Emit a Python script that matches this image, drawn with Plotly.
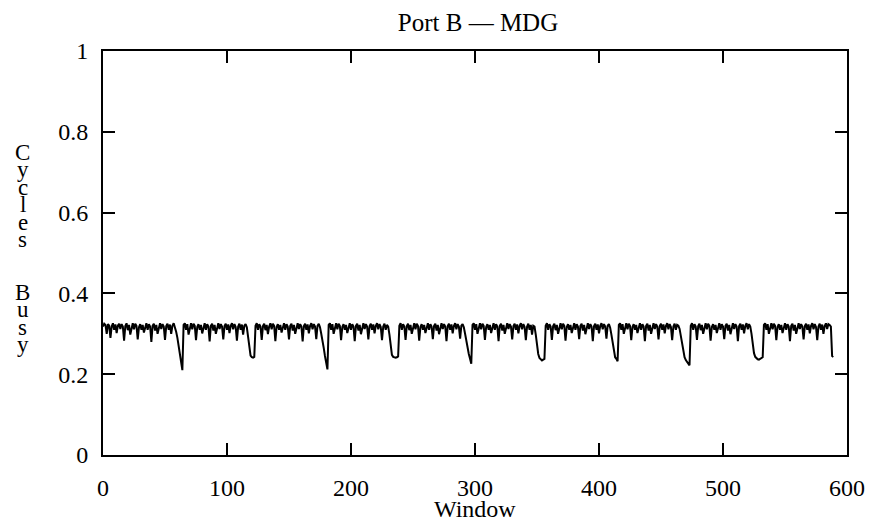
import plotly.graph_objects as go

# Fraction of cycles busy per window
busy = [
    # windows 0..64
    0.318, 0.325, 0.322, 0.30, 0.324, 0.32, 0.29,
    0.318, 0.326, 0.31, 0.323, 0.302,
    0.32, 0.325, 0.312, 0.324, 0.318, 0.283,
    0.319, 0.326, 0.309, 0.322, 0.298,
    0.318, 0.326, 0.311, 0.325, 0.32, 0.286,
    0.316, 0.324, 0.31, 0.322, 0.303,
    0.318, 0.326, 0.31, 0.324, 0.318, 0.28,
    0.32, 0.325, 0.308, 0.322, 0.30,
    0.318, 0.326, 0.312, 0.324, 0.318, 0.285,
    0.319, 0.325, 0.31, 0.323, 0.30,
    0.32, 0.326, 0.318, 0.305, 0.29, 0.27, 0.25, 0.235, 0.21,
    # windows 65..122
    0.322, 0.326, 0.31, 0.324, 0.298,
    0.318, 0.326, 0.311, 0.325, 0.32, 0.284,
    0.317, 0.324, 0.31, 0.322, 0.301,
    0.318, 0.326, 0.31, 0.324, 0.318, 0.281,
    0.32, 0.325, 0.308, 0.322, 0.30,
    0.318, 0.326, 0.312, 0.324, 0.318, 0.286,
    0.319, 0.325, 0.31, 0.323, 0.302,
    0.32, 0.326, 0.311, 0.324, 0.317, 0.283,
    0.318, 0.325, 0.31, 0.323, 0.298, 0.32, 0.324, 0.316, 0.295, 0.265, 0.246, 0.242, 0.241, 0.243,
    # windows 123..181
    0.32, 0.326, 0.31, 0.324, 0.318, 0.285,
    0.319, 0.325, 0.309, 0.322, 0.299,
    0.318, 0.326, 0.311, 0.325, 0.32, 0.282,
    0.317, 0.324, 0.31, 0.322, 0.303,
    0.318, 0.326, 0.31, 0.324, 0.318, 0.286,
    0.32, 0.325, 0.308, 0.322, 0.30,
    0.318, 0.326, 0.312, 0.324, 0.318, 0.281,
    0.319, 0.325, 0.31, 0.323, 0.301,
    0.32, 0.326, 0.311, 0.324, 0.318, 0.287,
    0.32, 0.325, 0.316, 0.30, 0.285, 0.265, 0.245, 0.232, 0.212,
    # windows 182..238
    0.322, 0.326, 0.31, 0.324, 0.30,
    0.318, 0.326, 0.311, 0.325, 0.32, 0.284,
    0.317, 0.324, 0.31, 0.322, 0.302,
    0.318, 0.326, 0.31, 0.324, 0.318, 0.282,
    0.32, 0.325, 0.308, 0.322, 0.299,
    0.318, 0.326, 0.312, 0.324, 0.318, 0.286,
    0.319, 0.325, 0.31, 0.323, 0.301,
    0.32, 0.326, 0.311, 0.324, 0.317, 0.284,
    0.318, 0.325, 0.31, 0.322, 0.318, 0.298, 0.268, 0.248, 0.243, 0.242, 0.241, 0.242, 0.244,
    # windows 239..297
    0.32, 0.326, 0.31, 0.324, 0.318, 0.285,
    0.319, 0.325, 0.309, 0.322, 0.30,
    0.318, 0.326, 0.311, 0.325, 0.32, 0.283,
    0.317, 0.324, 0.31, 0.322, 0.302,
    0.318, 0.326, 0.31, 0.324, 0.318, 0.287,
    0.32, 0.325, 0.308, 0.322, 0.299,
    0.318, 0.326, 0.312, 0.324, 0.318, 0.282,
    0.319, 0.325, 0.31, 0.323, 0.301,
    0.32, 0.326, 0.311, 0.324, 0.318, 0.288,
    0.32, 0.324, 0.316, 0.30, 0.28, 0.262, 0.25, 0.238, 0.226,
    # windows 298..356
    0.322, 0.326, 0.31, 0.324, 0.30,
    0.318, 0.326, 0.311, 0.325, 0.32, 0.285,
    0.317, 0.324, 0.31, 0.322, 0.302,
    0.318, 0.326, 0.31, 0.324, 0.318, 0.282,
    0.32, 0.325, 0.308, 0.322, 0.30,
    0.318, 0.326, 0.312, 0.324, 0.318, 0.286,
    0.319, 0.325, 0.31, 0.323, 0.301,
    0.32, 0.326, 0.311, 0.324, 0.317, 0.284,
    0.318, 0.325, 0.31, 0.322, 0.298, 0.32, 0.318, 0.298, 0.27, 0.25, 0.24, 0.236, 0.234, 0.236, 0.238,
    # windows 357..415
    0.32, 0.326, 0.31, 0.324, 0.318, 0.285,
    0.319, 0.325, 0.309, 0.322, 0.30,
    0.318, 0.326, 0.311, 0.325, 0.32, 0.283,
    0.317, 0.324, 0.31, 0.322, 0.302,
    0.318, 0.326, 0.31, 0.324, 0.318, 0.287,
    0.32, 0.325, 0.308, 0.322, 0.299,
    0.318, 0.326, 0.312, 0.324, 0.318, 0.282,
    0.319, 0.325, 0.31, 0.323, 0.301,
    0.32, 0.326, 0.311, 0.324, 0.318, 0.288,
    0.32, 0.324, 0.315, 0.298, 0.275, 0.255, 0.242, 0.238, 0.232,
    # windows 416..473
    0.322, 0.326, 0.31, 0.324, 0.30,
    0.318, 0.326, 0.311, 0.325, 0.32, 0.284,
    0.317, 0.324, 0.31, 0.322, 0.302,
    0.318, 0.326, 0.31, 0.324, 0.318, 0.282,
    0.32, 0.325, 0.308, 0.322, 0.30,
    0.318, 0.326, 0.312, 0.324, 0.318, 0.286,
    0.319, 0.325, 0.31, 0.323, 0.301,
    0.32, 0.326, 0.311, 0.324, 0.317, 0.284,
    0.318, 0.325, 0.31, 0.322, 0.32, 0.312, 0.295, 0.272, 0.252, 0.242, 0.235, 0.23, 0.226, 0.222,
    # windows 474..532
    0.32, 0.326, 0.31, 0.324, 0.318, 0.285,
    0.319, 0.325, 0.309, 0.322, 0.30,
    0.318, 0.326, 0.311, 0.325, 0.32, 0.283,
    0.317, 0.324, 0.31, 0.322, 0.302,
    0.318, 0.326, 0.31, 0.324, 0.318, 0.287,
    0.32, 0.325, 0.308, 0.322, 0.299,
    0.318, 0.326, 0.312, 0.324, 0.318, 0.282,
    0.319, 0.325, 0.31, 0.323, 0.301,
    0.32, 0.326, 0.311, 0.324, 0.318, 0.30, 0.272, 0.252, 0.243, 0.239, 0.237, 0.236, 0.238, 0.24, 0.242,
    # windows 533..589
    0.322, 0.326, 0.31, 0.324, 0.30,
    0.318, 0.326, 0.311, 0.325, 0.32, 0.284,
    0.317, 0.324, 0.31, 0.322, 0.302,
    0.318, 0.326, 0.31, 0.324, 0.318, 0.282,
    0.32, 0.325, 0.308, 0.322, 0.30,
    0.318, 0.326, 0.312, 0.324, 0.318, 0.286,
    0.319, 0.325, 0.31, 0.323, 0.301,
    0.32, 0.326, 0.311, 0.324, 0.317, 0.284,
    0.318, 0.325, 0.31, 0.323, 0.30, 0.319, 0.326, 0.312, 0.324, 0.322, 0.318, 0.245, 0.243,
]
windows = list(range(len(busy)))

x_ticks = [0, 100, 200, 300, 400, 500, 600]
y_ticks = [0, 0.2, 0.4, 0.6, 0.8, 1]
y_tick_labels = ["0", "0.2", "0.4", "0.6", "0.8", "1"]
title_text = "Port B — MDG"
x_title = "Window"
y_title_letters = ["C", "y", "c", "l", "e", "s", "", "", "B", "u", "s", "y"]

W, H = 877, 529
L, R, T, B = 103, 24, 51, 74
FONT = "Liberation Serif"

fig = go.Figure()
fig.add_trace(go.Scatter(x=windows, y=busy, mode="lines",
                         line=dict(color="black", width=2), showlegend=False,
                         hoverinfo="skip"))

axis_common = dict(showline=True, linecolor="black", linewidth=2, mirror="ticks",
                   ticks="inside", ticklen=12, tickwidth=2, tickcolor="black",
                   showgrid=False, zeroline=False,
                   tickfont=dict(family=FONT, size=24, color="black"))

fig.update_xaxes(range=[0, 600], tickmode="array", tickvals=x_ticks,
                 ticktext=[str(v) for v in x_ticks], ticklabelstandoff=10,
                 **axis_common)
fig.update_yaxes(range=[0, 1], tickmode="array", tickvals=y_ticks,
                 ticktext=y_tick_labels, ticklabelstandoff=8, **axis_common)

plot_h = H - T - B
plot_w = W - L - R

# x-axis title
fig.add_annotation(text=x_title, xref="paper", yref="paper",
                   x=0.5, y=(H - B - 509) / plot_h, xanchor="center", yanchor="middle",
                   showarrow=False, font=dict(family=FONT, size=24, color="black"))

# stacked y-axis title letters
y0_px = 152
step = 17.5
for i, ch in enumerate(y_title_letters):
    if not ch:
        continue
    ypx = y0_px + i * step
    fig.add_annotation(text=ch, xref="paper", yref="paper",
                       x=(22 - L) / plot_w, y=(H - B - ypx) / plot_h,
                       xanchor="center", yanchor="middle", showarrow=False,
                       font=dict(family=FONT, size=23, color="black"))

fig.update_layout(
    width=W, height=H,
    margin=dict(l=L, r=R, t=T, b=B),
    paper_bgcolor="white", plot_bgcolor="white",
    title=dict(text=title_text, x=(L + plot_w / 2) / W, xanchor="center",
               y=1 - 22 / H, yanchor="middle", yref="container",
               font=dict(family=FONT, size=25, color="black")),
)

fig.write_html("out.html")
